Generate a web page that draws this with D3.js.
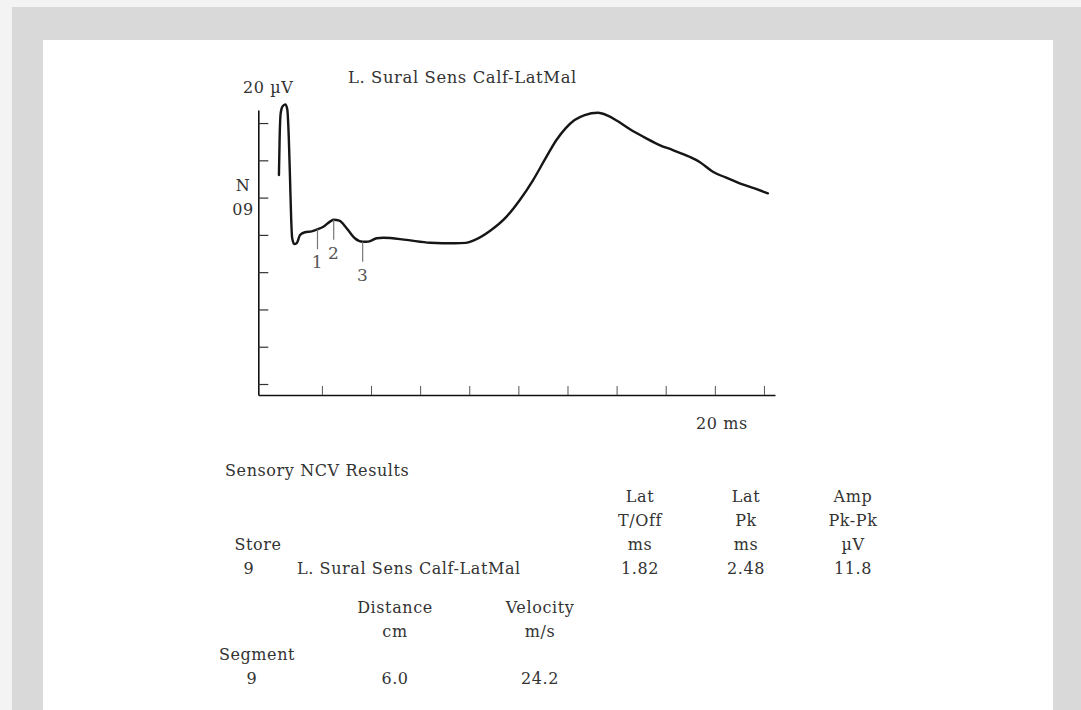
<!DOCTYPE html>
<html>
<head>
<meta charset="utf-8">
<script src="https://cdn.jsdelivr.net/npm/d3@7"></script>
<style>
  html, body { margin: 0; padding: 0; background: #f3f3f3; }
  svg { display: block; }
  text { font-family: "DejaVu Serif", serif; fill: #333; letter-spacing: 0.6px; }
</style>
</head>
<body>
<svg id="chart" width="1081" height="710"></svg>
<script>
// Sensory nerve action potential, L. sural nerve (calf to lateral malleolus)
const timeMs = [0.25, 0.28, 0.32, 0.39, 0.51, 0.59, 0.65, 0.70, 0.75, 0.79, 0.875, 0.97, 1.11, 1.31, 1.58,
  1.82, 2.06, 2.33, 2.48, 2.71, 3.01, 3.34, 3.66, 3.89, 4.23, 4.50, 5.45, 6.40, 7.41, 7.86, 8.23, 8.84,
  9.52, 10.06, 10.60, 11.07, 11.55, 11.93, 12.29, 12.70, 13.24, 13.64, 14.00, 14.53, 15.21, 15.75,
  16.29, 16.97, 17.38, 17.92, 18.44, 19.01, 19.62, 20.16];
const amplitudeUv = [32.1, 52.7, 65.2, 68.8, 70.0, 67.4, 52.7, 31.2, 8.0, -1.8, -4.9, -4.5, -0.1, 1.4, 1.9,
  3.0, 4.4, 7.1, 8.1, 7.6, 3.5, -1.8, -3.7, -3.6, -1.8, -1.5, -2.7, -4.2, -4.5, -4.3, -2.7, 2.1,
  9.8, 18.7, 29.4, 40.2, 50.9, 57.3, 61.6, 64.3, 65.5, 64.0, 61.4, 56.8, 51.8, 48.2,
  45.5, 41.9, 39.1, 33.9, 30.8, 27.7, 24.9, 22.3];

// Cursor markers: onset (1), peak (2), trough (3)
const markerLabels = ["1", "2", "3"];
const markerMs = [1.82, 2.48, 3.66];

// Axis ticks (2 ms / division, 20 µV / division)
const xTickMs = [2, 4, 6, 8, 10, 12, 14, 16, 18, 20];
const yTickUv = [60, 40, 20, 0, -20, -40, -60, -80];

// Results tables
const traceTitle = "L. Sural Sens Calf-LatMal";
const resultColumns = [["Lat", "T/Off", "ms"], ["Lat", "Pk", "ms"], ["Amp", "Pk-Pk", "µV"]];
const resultStore = "9";
const resultSite = "L. Sural Sens Calf-LatMal";
const resultValues = ["1.82", "2.48", "11.8"];
const segmentColumns = [["Distance", "cm"], ["Velocity", "m/s"]];
const segmentName = "9";
const segmentValues = ["6.0", "24.2"];

const svg = d3.select("#chart");

// page frame
svg.append("rect").attr("x", 12).attr("y", 7).attr("width", 1069).attr("height", 703).attr("fill", "#d9d9d9");
svg.append("rect").attr("x", 43).attr("y", 40).attr("width", 1010).attr("height", 670).attr("fill", "#ffffff");

// scales
const x = d3.scaleLinear().domain([-0.59, 20.45]).range([258.3, 775]);
const y = d3.scaleLinear().domain([-85.9, 67]).range([395, 110]);

// y axis (ticks pointing into the plot)
const yAxis = svg.append("g").attr("transform", `translate(${x(-0.59)},0)`)
  .call(d3.axisRight(y).tickValues(yTickUv).tickSize(10).tickSizeOuter(0).tickFormat(""));
yAxis.select(".domain").attr("stroke", "#111").attr("stroke-width", 1.6);
yAxis.selectAll(".tick line").attr("stroke", "#333").attr("stroke-width", 1.2);

// x axis (ticks pointing up)
const xAxis = svg.append("g").attr("transform", `translate(0,${y(-85.9)})`)
  .call(d3.axisTop(x).tickValues(xTickMs).tickSize(9).tickSizeOuter(0).tickFormat(""));
xAxis.select(".domain").attr("stroke", "#111").attr("stroke-width", 1.6);
xAxis.selectAll(".tick line").attr("stroke", "#555").attr("stroke-width", 1);

// axis captions
svg.append("text").attr("x", 243).attr("y", 93).attr("font-size", 16).text("20 µV");
svg.append("text").attr("x", 243).attr("y", 191).attr("font-size", 16).attr("text-anchor", "middle").text("N");
svg.append("text").attr("x", 243).attr("y", 215).attr("font-size", 16).attr("text-anchor", "middle").text("09");
svg.append("text").attr("x", 722).attr("y", 429).attr("font-size", 16).attr("text-anchor", "middle").text("20 ms");
svg.append("text").attr("x", 348).attr("y", 83).attr("font-size", 16.4).text(traceTitle);

// waveform
const trace = timeMs.map((t, i) => [t, amplitudeUv[i]]);
svg.append("path")
  .datum(trace)
  .attr("fill", "none")
  .attr("stroke", "#161616")
  .attr("stroke-width", 2.4)
  .attr("stroke-linejoin", "round")
  .attr("stroke-linecap", "round")
  .attr("d", d3.line().x(d => x(d[0])).y(d => y(d[1])).curve(d3.curveMonotoneX));

// markers
const valueAt = t => amplitudeUv[timeMs.indexOf(t)];
const markers = svg.append("g").selectAll("g").data(markerMs).join("g");
markers.append("line")
  .attr("x1", d => x(d)).attr("x2", d => x(d))
  .attr("y1", d => y(valueAt(d))).attr("y2", d => y(valueAt(d)) + 20)
  .attr("stroke", "#777").attr("stroke-width", 1.2);
markers.append("text")
  .attr("x", d => x(d)).attr("y", d => y(valueAt(d)) + 39)
  .attr("text-anchor", "middle").attr("font-size", 17)
  .style("fill", "#555")
  .text((d, i) => markerLabels[i]);

// Sensory NCV results table
const colX = [640, 746, 853];
svg.append("text").attr("x", 225).attr("y", 476).attr("font-size", 16).text("Sensory NCV Results");
resultColumns.forEach((lines, c) => {
  lines.forEach((s, r) => {
    svg.append("text").attr("x", colX[c]).attr("y", 502 + r * 24)
      .attr("font-size", 16).attr("text-anchor", "middle").text(s);
  });
  svg.append("text").attr("x", colX[c]).attr("y", 574)
    .attr("font-size", 16).attr("text-anchor", "middle").text(resultValues[c]);
});
svg.append("text").attr("x", 258).attr("y", 550).attr("font-size", 16).attr("text-anchor", "middle").text("Store");
svg.append("text").attr("x", 249).attr("y", 574).attr("font-size", 16).attr("text-anchor", "middle").text(resultStore);
svg.append("text").attr("x", 297).attr("y", 574).attr("font-size", 16).text(resultSite);

// Segment table
const segX = [395, 540];
segmentColumns.forEach((lines, c) => {
  lines.forEach((s, r) => {
    svg.append("text").attr("x", segX[c]).attr("y", 613 + r * 24)
      .attr("font-size", 16).attr("text-anchor", "middle").text(s);
  });
  svg.append("text").attr("x", segX[c]).attr("y", 684)
    .attr("font-size", 16).attr("text-anchor", "middle").text(segmentValues[c]);
});
svg.append("text").attr("x", 257).attr("y", 660).attr("font-size", 16).attr("text-anchor", "middle").text("Segment");
svg.append("text").attr("x", 252).attr("y", 684).attr("font-size", 16).attr("text-anchor", "middle").text(segmentName);
</script>
</body>
</html>
